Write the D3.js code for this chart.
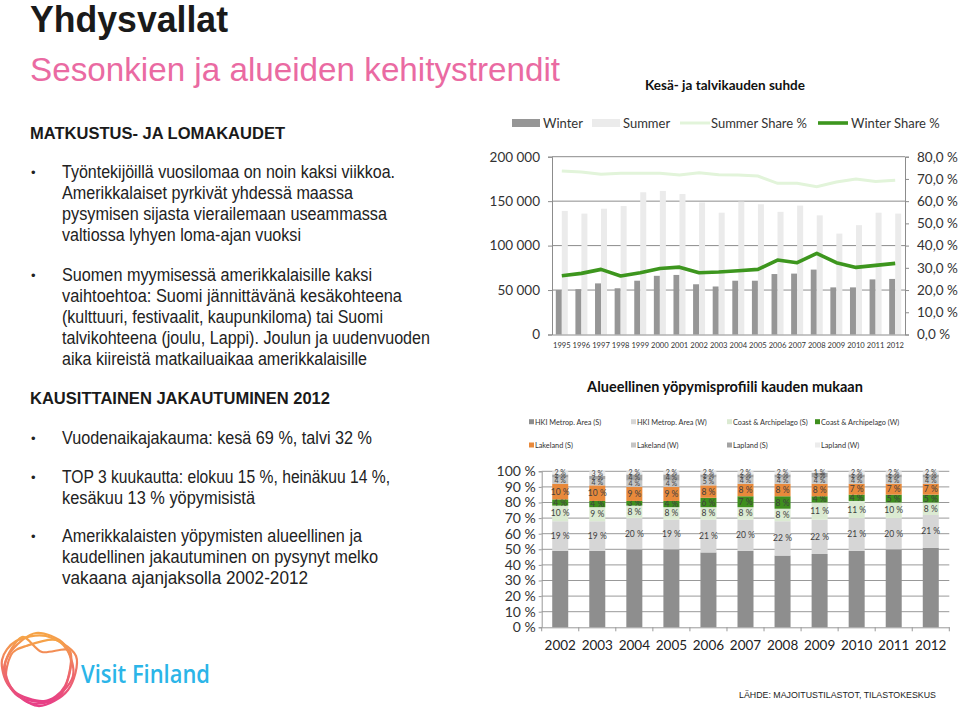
<!DOCTYPE html>
<html><head><meta charset="utf-8">
<script src="https://cdn.jsdelivr.net/npm/d3@7"></script>
<style>body{margin:0;background:#fff}svg{display:block}</style>
</head><body>
<svg id="c" width="960" height="710"></svg>
<script>
// ---------- DATA ----------
const years = ["1995","1996","1997","1998","1999","2000","2001","2002","2003","2004","2005","2006","2007","2008","2009","2010","2011","2012"];
const winterNights = [50000,51000,57500,52000,60500,66000,67000,56500,54000,60500,60500,68000,68500,73000,53000,53000,62000,62500];
const summerNights = [139000,136000,141500,144500,160000,161500,158000,148500,137000,149500,146500,138000,145000,134000,113500,123000,137000,136000];
const summerShare = [73.6,73.1,72.1,72.5,72.5,72.5,71.8,72.8,71.9,71.8,71.3,68.0,68.0,66.5,68.6,70.0,68.8,69.4];
const winterShare = [26.4,27.5,29.3,26.3,27.8,29.7,30.3,27.8,28.1,28.7,29.3,33.5,32.3,36.5,32.3,30.2,31.1,32.0];
const leftTicks = [0,50000,100000,150000,200000];
const rightTicks = [0,10,20,30,40,50,60,70,80];
const topLegend = ["Winter","Summer","Summer Share %","Winter Share %"];

const regionYears = ["2002","2003","2004","2005","2006","2007","2008","2009","2010","2011","2012"];
const regionSeries = ["HKI Metrop. Area (S)","HKI Metrop. Area (W)","Coast & Archipelago (S)","Coast & Archipelago (W)","Lakeland (S)","Lakeland (W)","Lapland (S)","Lapland (W)"];
const hkiS   = [49,49,50,50,48,49,46,47,49,50,51];
const hkiW   = [19,19,20,19,21,20,22,22,21,20,21];
const coastS = [10, 9, 8, 8, 8, 8, 8,11,11,10, 8];
const coastW = [ 4, 4, 3, 4, 6, 7, 8, 4, 4, 5, 5];
const lakeS  = [10,10, 9, 9, 8, 8, 8, 8, 7, 7, 7];
const lakeW  = [ 4, 4, 4, 4, 5, 4, 4, 4, 4, 4, 4];
const lapS   = [ 2, 2, 4, 4, 2, 2, 2, 3, 2, 2, 2];
const lapW   = [ 2, 3, 2, 2, 2, 2, 2, 1, 2, 2, 2];
const pctTicks = [0,10,20,30,40,50,60,70,80,90,100];

// ---------- SETUP ----------
const svg = d3.select("#c");
const CAL = "Lato, 'Open Sans', sans-serif";
const ARIAL = "'Liberation Sans', Arial, sans-serif";

// ---------- LEFT TEXT ----------
svg.append("text").attr("x",30).attr("y",32).attr("font-family",ARIAL).attr("font-weight","bold")
  .attr("font-size",36).attr("fill","#1a1a1a").attr("textLength",198).attr("lengthAdjust","spacingAndGlyphs").text("Yhdysvallat");
svg.append("text").attr("x",30).attr("y",81).attr("font-family",ARIAL).attr("font-size",33)
  .attr("fill","#ea6aa2").attr("textLength",530).attr("lengthAdjust","spacingAndGlyphs").text("Sesonkien ja alueiden kehitystrendit");

const heads = [
  {t:"MATKUSTUS- JA LOMAKAUDET", y:139, w:255},
  {t:"KAUSITTAINEN JAKAUTUMINEN 2012", y:404, w:300}
];
heads.forEach(h=>svg.append("text").attr("x",30).attr("y",h.y).attr("font-family",ARIAL).attr("font-weight","bold")
  .attr("font-size",17).attr("fill","#1a1a1a").attr("textLength",h.w).attr("lengthAdjust","spacingAndGlyphs").text(h.t));

const body = [
  {t:"Työntekijöillä vuosilomaa on noin kaksi viikkoa.", y:177.5, e:395, b:true},
  {t:"Amerikkalaiset pyrkivät yhdessä maassa", y:198.5, e:353},
  {t:"pysymisen sijasta vierailemaan useammassa", y:219.5, e:387},
  {t:"valtiossa lyhyen loma-ajan vuoksi", y:240.5, e:301},
  {t:"Suomen myymisessä amerikkalaisille kaksi", y:281, e:372, b:true},
  {t:"vaihtoehtoa:  Suomi jännittävänä kesäkohteena", y:302, e:402},
  {t:"(kulttuuri, festivaalit, kaupunkiloma) tai Suomi", y:323, e:383},
  {t:"talvikohteena (joulu, Lappi). Joulun ja uudenvuoden", y:344, e:430},
  {t:"aika kiireistä matkailuaikaa amerikkalaisille", y:365, e:367},
  {t:"Vuodenaikajakauma: kesä 69 %, talvi 32 %", y:444, e:372, b:true},
  {t:"TOP 3 kuukautta: elokuu 15 %, heinäkuu 14 %,", y:483, e:390, b:true},
  {t:"kesäkuu 13 % yöpymisistä", y:504, e:255},
  {t:"Amerikkalaisten yöpymisten alueellinen ja", y:542, e:362, b:true},
  {t:"kaudellinen jakautuminen on pysynyt melko", y:563, e:378},
  {t:"vakaana ajanjaksolla 2002-2012", y:584, e:308}
];
body.forEach(l=>{
  svg.append("text").attr("x",62).attr("y",l.y).attr("font-family",ARIAL).attr("font-size",17.5)
    .attr("fill","#222").attr("textLength",l.e-62).attr("lengthAdjust","spacingAndGlyphs").text(l.t);
  if(l.b) svg.append("text").attr("x",31).attr("y",l.y-1).attr("font-family",ARIAL).attr("font-size",13)
    .attr("fill","#222").text("•");
});

// ---------- LOGO ----------
const defs = svg.append("defs");
const grad = defs.append("linearGradient").attr("id","lg").attr("x1",0).attr("y1",0).attr("x2",0).attr("y2",1);
grad.append("stop").attr("offset","0%").attr("stop-color","#f6a447");
grad.append("stop").attr("offset","100%").attr("stop-color","#e73f86");
const loops = [
  [[12,650],[36,633],[64,644],[73,676],[50,701],[18,696],[4,672]],
  [[16,641],[46,636],[76,656],[68,690],[38,706],[9,686],[2,660]],
  [[26,646],[56,640],[71,661],[60,696],[30,703],[7,681],[11,655]],
  [[22,637],[42,652],[70,651],[65,686],[44,701],[14,691],[5,664]]
];
const loopLine = d3.line().curve(d3.curveCardinalClosed.tension(0.1));
svg.append("g").selectAll("path").data(loops).join("path").attr("d",loopLine)
  .attr("fill","none").attr("stroke","url(#lg)").attr("stroke-width",2.2);
svg.append("text").attr("x",81).attr("y",683).attr("font-family","'Open Sans', Lato, sans-serif").attr("font-weight",600)
  .attr("font-size",25).attr("fill","#2bb5e8").attr("textLength",129).attr("lengthAdjust","spacingAndGlyphs").text("Visit Finland");

svg.append("text").attr("x",739).attr("y",698).attr("font-family",ARIAL).attr("font-size",9)
  .attr("fill","#222").attr("textLength",197).attr("lengthAdjust","spacingAndGlyphs").text("LÄHDE: MAJOITUSTILASTOT, TILASTOKESKUS");

// ---------- TOP CHART ----------
const T = {l:552, r:905, t:156.7, b:334.5};
const xT = d3.scaleBand().domain(years).range([T.l,T.r]);
const xSub = d3.scaleBand().domain(["w","s"]).range([xT.bandwidth()/2-6, xT.bandwidth()/2+6]);
const yL = d3.scaleLinear().domain([0,200000]).range([T.b,T.t]);
const yR = d3.scaleLinear().domain([0,80]).range([T.b,T.t]);
const fmtL = v => d3.format(",")(v).replace(/,/g," ");
const fmtR = v => v.toFixed(1).replace(".",",")+" %";

svg.append("text").attr("x",725).attr("y",90).attr("text-anchor","middle").attr("font-family",CAL)
  .attr("font-weight","bold").attr("font-size",13.5).attr("fill","#111").text("Kesä- ja talvikauden suhde");

const gT = svg.append("g");
gT.append("g").selectAll("line").data(leftTicks.slice(1)).join("line")
  .attr("x1",T.l).attr("x2",T.r).attr("y1",d=>yL(d)).attr("y2",d=>yL(d)).attr("stroke","#8c8c8c");
gT.append("g").selectAll("rect").data(years).join("rect")
  .attr("x",d=>xT(d)+xSub("w")).attr("width",xSub.bandwidth()).attr("y",(d,i)=>yL(winterNights[i]))
  .attr("height",(d,i)=>T.b-yL(winterNights[i])).attr("fill","#969696");
gT.append("g").selectAll("rect").data(years).join("rect")
  .attr("x",d=>xT(d)+xSub("s")).attr("width",xSub.bandwidth()).attr("y",(d,i)=>yL(summerNights[i]))
  .attr("height",(d,i)=>T.b-yL(summerNights[i])).attr("fill","#ebebeb");
const lineR = arr => d3.line().x((d,i)=>xT(years[i])+xT.bandwidth()/2).y(d=>yR(d))(arr);
gT.append("path").attr("d",lineR(summerShare)).attr("fill","none").attr("stroke","#e2f4da").attr("stroke-width",3);
gT.append("path").attr("d",lineR(winterShare)).attr("fill","none").attr("stroke","#3d961e").attr("stroke-width",3.6).attr("stroke-linejoin","round");

const axL = gT.append("g").attr("transform",`translate(${T.l},0)`).call(d3.axisLeft(yL).tickValues(leftTicks).tickFormat(fmtL).tickSize(4).tickPadding(8));
const axR = gT.append("g").attr("transform",`translate(${T.r},0)`).call(d3.axisRight(yR).tickValues(rightTicks).tickFormat(fmtR).tickSize(4).tickPadding(8));
const axB = gT.append("g").attr("transform",`translate(0,${T.b})`).call(d3.axisBottom(xT).tickSize(0).tickPadding(8));
[axL,axR].forEach(a=>{a.selectAll("text").attr("font-family",CAL).attr("font-size",13.5).attr("fill","#333");
  a.selectAll("line,path").attr("stroke","#8c8c8c");});
axB.select(".domain").attr("stroke","#8c8c8c");
axB.selectAll("text").attr("font-family",CAL).attr("font-size",7.6).attr("fill","#333");

// top legend
const tlx = [512,592,680,818], ttx = [543,623,711,851];
const tl = svg.append("g");
topLegend.forEach((s,i)=>{
  if(i<2) tl.append("rect").attr("x",tlx[i]).attr("y",119).attr("width",28).attr("height",8).attr("fill",i==0?"#969696":"#ebebeb");
  else tl.append("line").attr("x1",tlx[i]).attr("x2",tlx[i]+30).attr("y1",123).attr("y2",123)
    .attr("stroke",i==2?"#e2f4da":"#3d961e").attr("stroke-width",i==2?3:3.6);
  tl.append("text").attr("x",ttx[i]).attr("y",127.5).attr("font-family",CAL).attr("font-size",13).attr("fill","#333").text(s);
});

// ---------- BOTTOM CHART ----------
const B = {l:541.7, r:949.3, t:471.3, b:627.3};
const xB = d3.scaleBand().domain(regionYears).range([B.l,B.r]);
const yB = d3.scaleLinear().domain([0,100]).range([B.b,B.t]);
const colors = ["#8e8e8e","#d6d6d6","#dbead2","#3e8f1d","#e8893b","#c4c4c4","#a3a3a3","#ececec"];
const seriesVals = [hkiS,hkiW,coastS,coastW,lakeS,lakeW,lapS,lapW];
const rows = regionYears.map((y,i)=>{const o={year:y}; regionSeries.forEach((s,k)=>o[s]=seriesVals[k][i]); return o;});
const stack = d3.stack().keys(regionSeries)(rows);

svg.append("text").attr("x",725).attr("y",391.5).attr("text-anchor","middle").attr("font-family",CAL)
  .attr("font-weight","bold").attr("font-size",14.5).attr("fill","#111").text("Alueellinen yöpymisprofiili kauden mukaan");

const gB = svg.append("g");
gB.append("g").selectAll("line").data(pctTicks.slice(1)).join("line")
  .attr("x1",B.l).attr("x2",B.r).attr("y1",d=>yB(d)).attr("y2",d=>yB(d)).attr("stroke","#999");
const barW = 16;
stack.forEach((layer,k)=>{
  const g = gB.append("g");
  g.selectAll("rect").data(layer).join("rect")
    .attr("x",d=>xB(d.data.year)+xB.bandwidth()/2-barW/2).attr("width",barW)
    .attr("y",d=>yB(d[1])).attr("height",d=>yB(d[0])-yB(d[1])).attr("fill",colors[k]);
  if(k>0) g.selectAll("text").data(layer).join("text")
    .attr("x",d=>xB(d.data.year)+xB.bandwidth()/2).attr("y",d=>yB((d[0]+d[1])/2)+(k>=5?2.5:3))
    .attr("text-anchor","middle").attr("font-family",CAL).attr("font-size",k>=5?7:8.5).attr("fill","#404040")
    .text(d=>(d[1]-d[0])+" %");
});
const axBL = gB.append("g").attr("transform",`translate(${B.l},0)`).call(d3.axisLeft(yB).tickValues(pctTicks).tickFormat(d=>d+" %").tickSize(3).tickPadding(3));
const axBB = gB.append("g").attr("transform",`translate(0,${B.b})`).call(d3.axisBottom(xB).tickSize(0).tickPadding(13));
axBL.selectAll("text").attr("font-family",CAL).attr("font-size",14).attr("fill","#333");
axBL.selectAll("line,path").attr("stroke","#999");
axBB.select(".domain").attr("stroke","#999");
axBB.selectAll("text").attr("font-family",CAL).attr("font-size",13.5).attr("fill","#222");
gB.append("g").selectAll("line").data(regionYears.concat(["end"])).join("line")
  .attr("x1",(d,i)=>B.l+i*xB.step()).attr("x2",(d,i)=>B.l+i*xB.step()).attr("y1",B.b).attr("y2",B.b+4).attr("stroke","#999");

// bottom legend
const blx = [529,631,727,815];
const bly = [421.7,445];
regionSeries.forEach((s,k)=>{
  const cx = blx[k%4], cy = bly[Math.floor(k/4)];
  svg.append("rect").attr("x",cx).attr("y",cy-2.5).attr("width",5).attr("height",5).attr("fill",colors[k]);
  svg.append("text").attr("x",cx+6).attr("y",cy+3).attr("font-family",CAL).attr("font-size",7.3).attr("fill","#333").text(s);
});
</script>
</body></html>
